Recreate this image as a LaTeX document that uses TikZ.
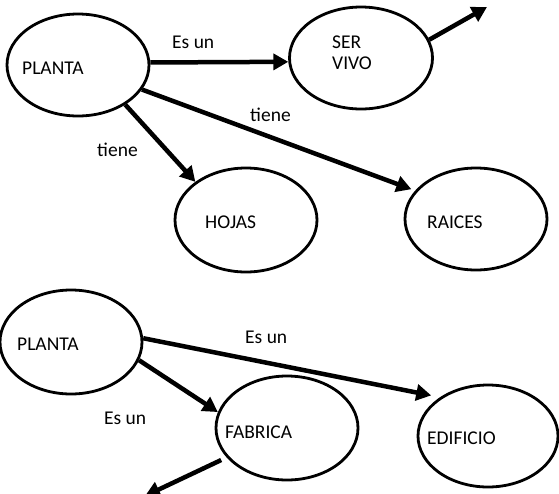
\documentclass[tikz,border=0pt]{standalone}
\usepackage{fontspec}
\setmainfont{Carlito}
\usetikzlibrary{shapes.geometric,arrows.meta}
\tikzset{
  oval/.style={draw=black, line width=2.8pt, ellipse, inner sep=0pt, minimum width=#1},
  txt/.style={anchor=west, inner sep=0pt, font=\fontsize{19.5}{21}\selectfont},
  conn/.style={line width=4.5pt, -{Triangle[length=15pt,width=16pt]}}
}
\begin{document}
\begin{tikzpicture}[x=1pt,y=-1pt]
\useasboundingbox (0,0) rectangle (559,493);
% top diagram
\node[oval=142pt, minimum height=102pt] (p1) at (78,65) {};
\node[oval=143pt, minimum height=102pt] (ser) at (361,58) {};
\node[oval=142pt, minimum height=104pt] (hojas) at (246,220) {};
\node[oval=142pt, minimum height=102pt] (raices) at (476,219) {};
\node[txt] (tp1) at (22,68) {PLANTA};
\node[txt, align=left] (tser) at (332,52.5) {SER\\VIVO};
\node[txt] (thojas) at (205,222) {HOJAS};
\node[txt] (traices) at (427,222) {RAICES};
\node[txt] (l1) at (172,42) {Es un};
\node[txt] (l2) at (97,150) {tiene};
\node[txt] (l3) at (250,115) {tiene};
\coordinate (serout) at (487,7);
\draw[conn] (p1.2) -- (ser.183);
\draw[conn] (ser.15) -- (serout);
\draw[conn] (p1.-40.4) -- (hojas.143.3);
\draw[conn, shorten >=4pt] (p1.-21) -- (raices.155.6);
% bottom diagram
\node[oval=142pt, minimum height=104pt] (p2) at (71,342) {};
\node[oval=142pt, minimum height=104pt] (fab) at (287,428) {};
\node[oval=140pt, minimum height=102pt] (edif) at (488,436) {};
\node[txt] (tp2) at (17,344) {PLANTA};
\node[txt] (tfab) at (225,432) {FABRICA};
\node[txt] (tedif) at (427,438) {EDIFICIO};
\node[txt] (l4) at (245,337) {Es un};
\node[txt] (l5) at (104,418) {Es un};
\coordinate (fabout) at (145,496);
\draw[conn, shorten >=9pt] (p2.3) -- (edif.141.8);
\draw[conn] (p2.-15) -- (fab.167);
\draw[conn, shorten <=6pt] (fab.206) -- (fabout);
\end{tikzpicture}
\end{document}
